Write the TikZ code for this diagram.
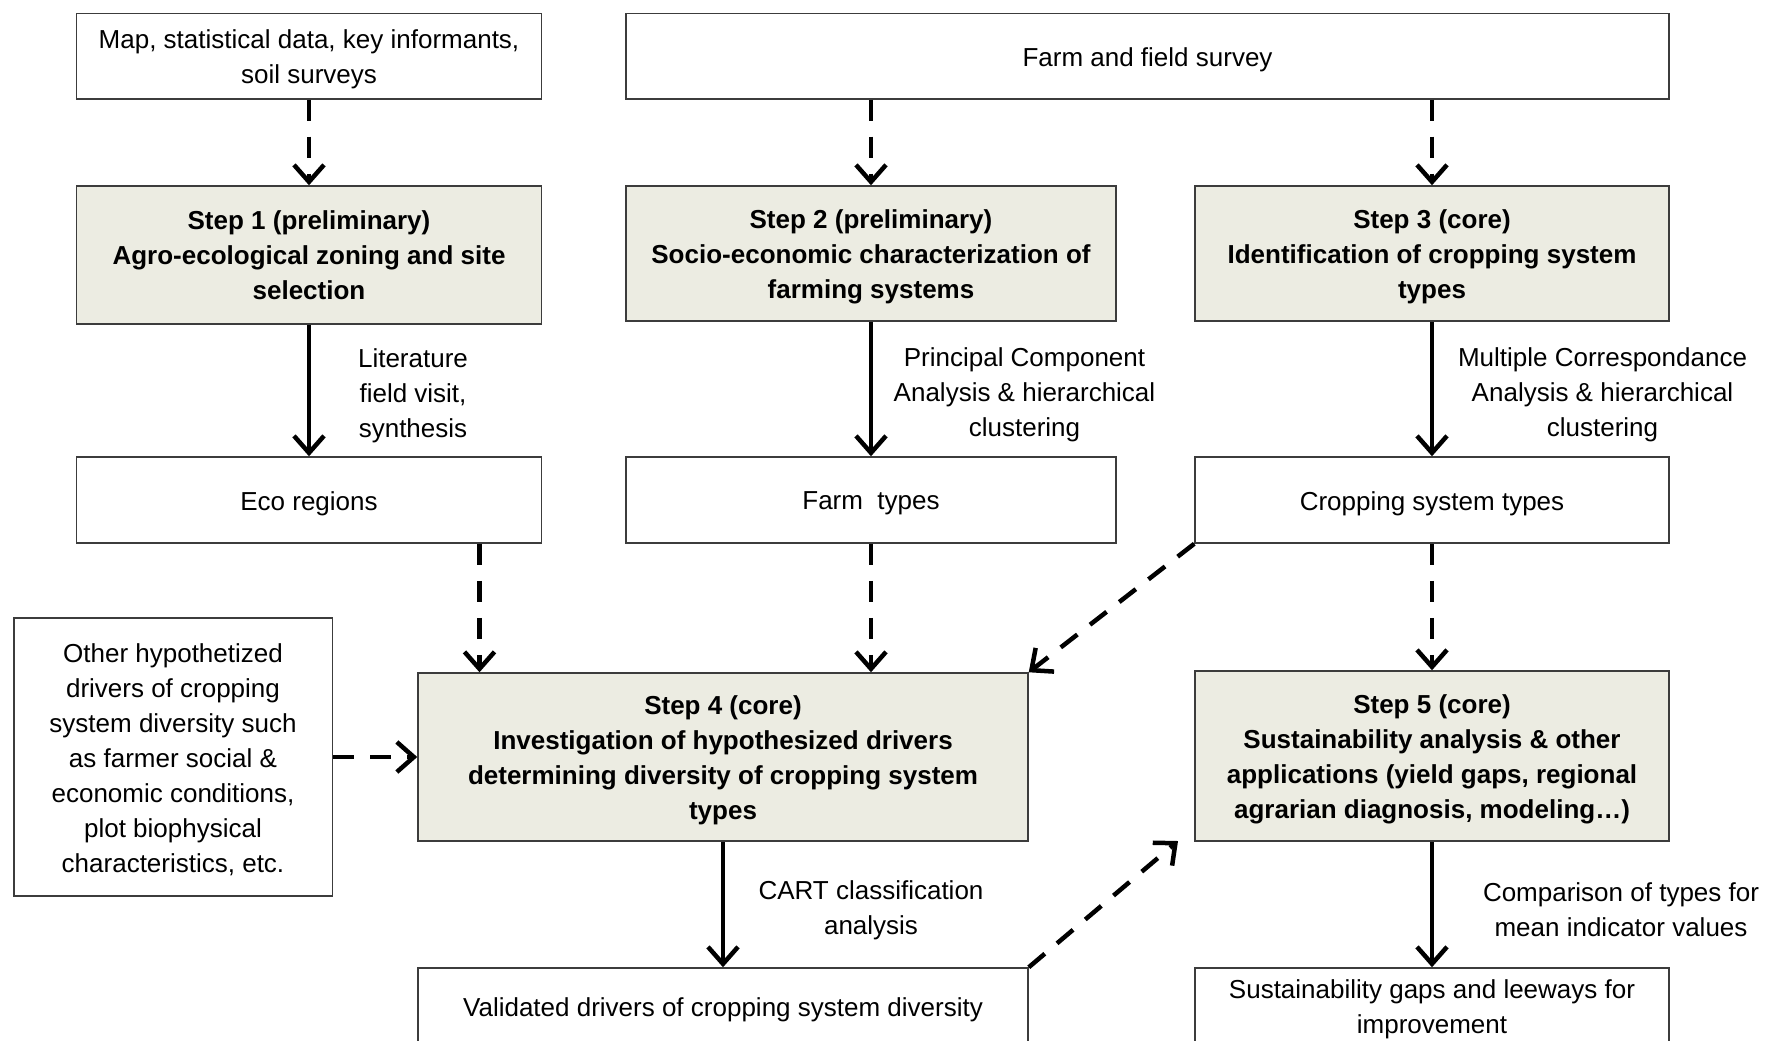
\documentclass[tikz,border=0pt]{standalone}
\usepackage{fontspec}
\setmainfont{Liberation Sans}
\usetikzlibrary{arrows.meta}
\definecolor{stepfill}{RGB}{236,236,226}
\definecolor{boxline}{RGB}{60,60,60}
\tikzset{
  txt/.style={font=\fontsize{13pt}{17.5pt}\selectfont, align=center, inner sep=0pt},
  btxt/.style={txt, font=\fontsize{13pt}{17.5pt}\selectfont\bfseries},
  plainbox/.style={draw=boxline, line width=0.75pt, fill=white, inner sep=0pt},
  stepbox/.style={draw=boxline, line width=0.75pt, fill=stepfill, inner sep=0pt},
  arr/.style={line width=2.25pt, -{Straight Barb[length=8.5pt,width=15pt]}},
  darr/.style={arr, dash pattern=on 10.5pt off 8pt},
  lbl/.style={txt}
}
\begin{document}
\begin{tikzpicture}[x=0.5pt,y=-0.5pt]
\useasboundingbox (0,0) rectangle (1765,1040);
\fill[white] (0,0) rectangle (1765,1040);

% top row
\node[plainbox, minimum width=232.5pt, minimum height=42.75pt] (map) at (309,56) {};
\node[txt, yshift=-1.7pt] (mapt) at (map) {Map, statistical data, key informants,\\soil surveys};
\node[plainbox, minimum width=521.5pt, minimum height=42.75pt] (survey) at (1147.5,56) {};
\node[txt, yshift=-1.7pt] (surveyt) at (survey) {Farm and field survey};

% steps 1-3
\node[stepbox, minimum width=232.5pt, minimum height=69pt] (s1) at (309,255) {};
\node[btxt, yshift=-0.3pt] (s1t) at (s1) {Step 1 (preliminary)\\Agro-ecological zoning and site\\selection};
\node[stepbox, minimum width=245pt, minimum height=67.5pt] (s2) at (871,253.5) {};
\node[btxt, yshift=-1.7pt] (s2t) at (s2) {Step 2 (preliminary)\\Socio-economic characterization of\\farming systems};
\node[stepbox, minimum width=237pt, minimum height=67.5pt] (s3) at (1432,253.5) {};
\node[btxt, yshift=-1.7pt] (s3t) at (s3) {Step 3 (core)\\Identification of cropping system\\types};

% results row
\node[plainbox, minimum width=232.5pt, minimum height=43pt] (eco) at (309,500) {};
\node[txt, yshift=-1.7pt] (ecot) at (eco) {Eco regions};
\node[plainbox, minimum width=245pt, minimum height=43pt] (farm) at (871,500) {};
\node[txt, yshift=-1.7pt] (farmt) at (farm) {Farm\ \ types};
\node[plainbox, minimum width=237pt, minimum height=43pt] (crop) at (1432,500) {};
\node[txt, yshift=-1.7pt] (cropt) at (crop) {Cropping system types};

% step 4 / 5 row
\node[plainbox, minimum width=159.25pt, minimum height=139pt] (other) at (173,757) {};
\node[txt, yshift=-1.2pt] (othert) at (other) {Other hypothetized\\drivers of cropping\\system diversity such\\as farmer social \&\\economic conditions,\\plot biophysical\\characteristics, etc.};
\node[stepbox, minimum width=305pt, minimum height=84pt] (s4) at (723,757) {};
\node[btxt, yshift=-1.7pt] (s4t) at (s4) {Step 4 (core)\\Investigation of hypothesized drivers\\determining diversity of cropping system\\types};
\node[stepbox, minimum width=237pt, minimum height=85pt] (s5) at (1432,756) {};
\node[btxt, yshift=-1.7pt] (s5t) at (s5) {Step 5 (core)\\Sustainability analysis \& other\\applications (yield gaps, regional\\agrarian diagnosis, modeling…)};

% bottom row
\node[plainbox, minimum width=305pt, minimum height=39pt] (valid) at (723,1007) {};
\node[txt, yshift=-1.2pt] (validt) at (valid) {Validated drivers of cropping system diversity};
\node[plainbox, minimum width=237pt, minimum height=39pt] (gaps) at (1432,1007) {};
\node[txt, yshift=-1.2pt] (gapst) at (gaps) {Sustainability gaps and leeways for\\improvement};

% labels
\node[lbl] (lit) at (413,395.5) {Literature\\field visit,\\synthesis};
\node[lbl] (pca) at (1024.5,394.5) {Principal Component\\Analysis \& hierarchical\\clustering};
\node[lbl] (mca) at (1602.5,394.5) {Multiple Correspondance\\Analysis \& hierarchical\\clustering};
\node[lbl] (cart) at (871,910) {CART classification\\analysis};
\node[lbl] (comp) at (1621,909.5) {Comparison of types for\\mean indicator values};

% helper coordinates
\coordinate (ecox) at (479.5,0);
\coordinate (tip5) at (1178,841);

% connectors
\draw[darr] (map.south) -- (s1.north);
\draw[darr] (survey.south -| s2.north) -- (s2.north);
\draw[darr] (survey.south -| s3.north) -- (s3.north);

\draw[arr] (s1.south) -- (eco.north);
\draw[arr] (s2.south) -- (farm.north);
\draw[arr] (s3.south) -- (crop.north);

\draw[darr] (eco.south -| ecox) -- (s4.north -| ecox);
\draw[darr] (farm.south) -- (farm.south |- s4.north);
\draw[darr] (crop.south west) -- (s4.north east);
\draw[darr] (crop.south) -- (s5.north);
\draw[darr] (other.east) -- (s4.west);

\draw[arr] (s4.south) -- (valid.north);
\draw[darr] (valid.north east) -- (tip5);
\draw[arr] (s5.south) -- (gaps.north);
\end{tikzpicture}
\end{document}
